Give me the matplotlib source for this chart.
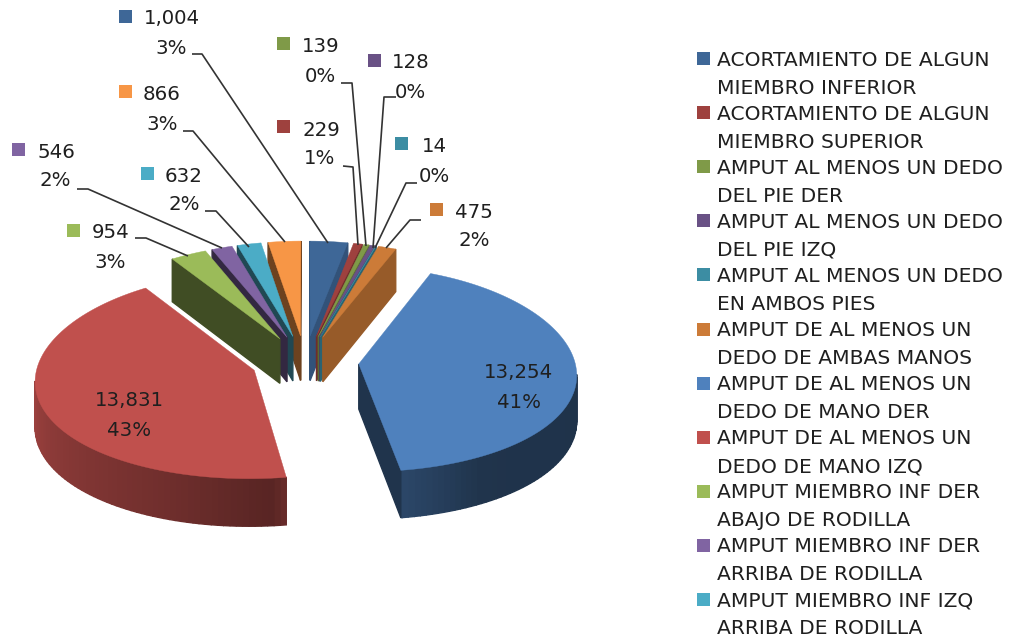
#!/usr/bin/env python3
import numpy as np
import matplotlib
matplotlib.use("Agg")
import matplotlib.pyplot as plt
from matplotlib.patches import Rectangle
from matplotlib.colors import to_rgb

# data
categories = [
    "ACORTAMIENTO DE ALGUN\nMIEMBRO INFERIOR",
    "ACORTAMIENTO DE ALGUN\nMIEMBRO SUPERIOR",
    "AMPUT AL MENOS UN DEDO\nDEL PIE DER",
    "AMPUT AL MENOS UN DEDO\nDEL PIE IZQ",
    "AMPUT AL MENOS UN DEDO\nEN AMBOS PIES",
    "AMPUT DE AL MENOS UN\nDEDO DE AMBAS MANOS",
    "AMPUT DE AL MENOS UN\nDEDO DE MANO DER",
    "AMPUT DE AL MENOS UN\nDEDO DE MANO IZQ",
    "AMPUT MIEMBRO INF DER\nABAJO DE RODILLA",
    "AMPUT MIEMBRO INF DER\nARRIBA DE RODILLA",
    "AMPUT MIEMBRO INF IZQ\nARRIBA DE RODILLA",
]
values = [1004, 229, 139, 128, 14, 475, 13254, 13831, 954, 546, 632, 866]
percents = [3, 1, 0, 0, 0, 2, 41, 43, 3, 2, 2, 3]

colors = ["#3e6797", "#9e413e", "#7f9a48", "#695185", "#3c8da3", "#cc7b38",
          "#4f81bd", "#c0504d", "#9bbb59", "#8064a2", "#4bacc6", "#f79646"]
# how dark the cut faces of each slice are
cut_shade = [0.8, 0.7, 0.7, 0.7, 0.7, 0.74, 0.4, 0.45, 0.41, 0.4, 0.42, 0.44]

# pie geometry, in pixels
CX, CY = 305, 361
RX, RY = 216, 102
DEPTH = 45
EXPLODE = 0.25
PX, PY = 0.09, 0.05

# data label layout: square x, square y, value centre x, value y, percent centre x, percent y
label_pos = [
    (119, 10, 172, 19, 171, 48),
    (277, 120, 321, 130, 320, 159),
    (277, 37, 321, 47, 320, 76),
    (368, 54, 411, 63, 410, 93),
    (395, 137, 434, 146, 434, 176),
    (430, 203, 474, 212, 474, 241),
    (None, None, 519, 372, 519, 402),
    (None, None, 129, 400, 129, 430),
    (67, 224, 111, 233, 110, 262),
    (12, 143, 56, 152, 55, 181),
    (141, 167, 184, 176, 184, 205),
    (119, 85, 162, 95, 162, 124),
]
leaders = [
    [(192, 54), (202, 54), (328, 243)],
    [(343, 166), (353, 167), (358, 245)],
    [(341, 83), (352, 83), (366, 246)],
    [(396, 97), (384, 97), (373, 248)],
    [(417, 183), (406, 183), (375, 248)],
    [(421, 220), (410, 220), (386, 248)],
    [(135, 238), (146, 238), (188, 256)],
    [(77, 189), (88, 189), (222, 248)],
    [(205, 211), (216, 211), (249, 247)],
    [(183, 131), (193, 131), (285, 242)],
]

plt.rcParams["font.family"] = ["DejaVu Sans"]
TEXT = "#1f1f1f"
LABEL_SIZE = 14.2
LEGEND_SIZE = 14.6


def project(X, Y, z=0.0):
    x = CX + RX * X / (1 + PX * Y)
    y = CY + (z * DEPTH - RY * Y) / (1 + PY * Y)
    return x, y


def darker(color, k):
    return tuple(c * k for c in to_rgb(color))


def rim_shade(deg):
    return np.interp(deg, [90, 150, 171, 175, 200, 270, 330],
                     [0.39, 0.40, 0.55, 0.46, 0.58, 0.83, 0.85])


def wall(ax, a, b, ox, oy, color):
    # a, b are points in model space, skipped when the face looks away
    pts = [project(a[0] + ox, a[1] + oy), project(b[0] + ox, b[1] + oy),
           project(b[0] + ox, b[1] + oy, 1), project(a[0] + ox, a[1] + oy, 1)]
    xs, ys = np.array(pts).T
    area = np.sum(xs * np.roll(ys, -1) - np.roll(xs, -1) * ys)
    if area < 0:
        ax.fill(xs, ys, color=color, lw=1.0)


fig = plt.figure(figsize=(10.1, 6.43), dpi=100)
ax = fig.add_axes([0, 0, 1, 1])
ax.set_xlim(0, 1010)
ax.set_ylim(643, 0)
ax.axis("off")

bounds = np.concatenate([[0], np.cumsum(values)]) / np.sum(values) * 360
mids = (bounds[:-1] + bounds[1:]) / 2
order = np.argsort(-np.cos(np.radians(mids)))

for i in order:
    t0, t1 = bounds[i], bounds[i + 1]
    mid = np.radians(mids[i])
    ox, oy = EXPLODE * np.sin(mid), EXPLODE * np.cos(mid)
    thetas = np.arange(t0, t1, 1.5)
    thetas = np.append(thetas, t1)
    rad = np.radians(thetas)
    rim = np.column_stack([np.sin(rad), np.cos(rad)])

    side = darker(colors[i], cut_shade[i])
    wall(ax, (0, 0), rim[0], ox, oy, side)
    for j in range(len(rim) - 1):
        shade = rim_shade((thetas[j] + thetas[j + 1]) / 2)
        wall(ax, rim[j], rim[j + 1], ox, oy, darker(colors[i], shade))
    wall(ax, rim[-1], (0, 0), ox, oy, side)

    top = [project(ox, oy)] + [project(p[0] + ox, p[1] + oy) for p in rim]
    xs, ys = np.array(top).T
    ax.fill(xs, ys, color=colors[i], lw=0.3)

# leader lines
for line in leaders:
    xs, ys = zip(*line)
    ax.plot(xs, ys, color="#333333", lw=1.2, solid_capstyle="butt")

# data labels
for i, (sx, sy, vx, vy, px, py) in enumerate(label_pos):
    if sx is not None:
        ax.add_patch(Rectangle((sx, sy), 13, 13, color=colors[i], lw=0))
    ax.text(vx, vy, f"{values[i]:,}", ha="center", va="center", fontsize=LABEL_SIZE, color=TEXT)
    ax.text(px, py, f"{percents[i]}%", ha="center", va="center", fontsize=LABEL_SIZE, color=TEXT)

# legend, only the first eleven entries fit in the frame
for i, name in enumerate(categories):
    y0 = 60 + i * 54.1
    ax.add_patch(Rectangle((697, y0 - 8), 13, 13, color=colors[i], lw=0))
    first, second = name.split("\n")
    ax.text(717, y0, first, va="center", fontsize=LEGEND_SIZE, color=TEXT)
    ax.text(717, y0 + 28, second, va="center", fontsize=LEGEND_SIZE, color=TEXT)

fig.savefig("out.png", dpi=100)
